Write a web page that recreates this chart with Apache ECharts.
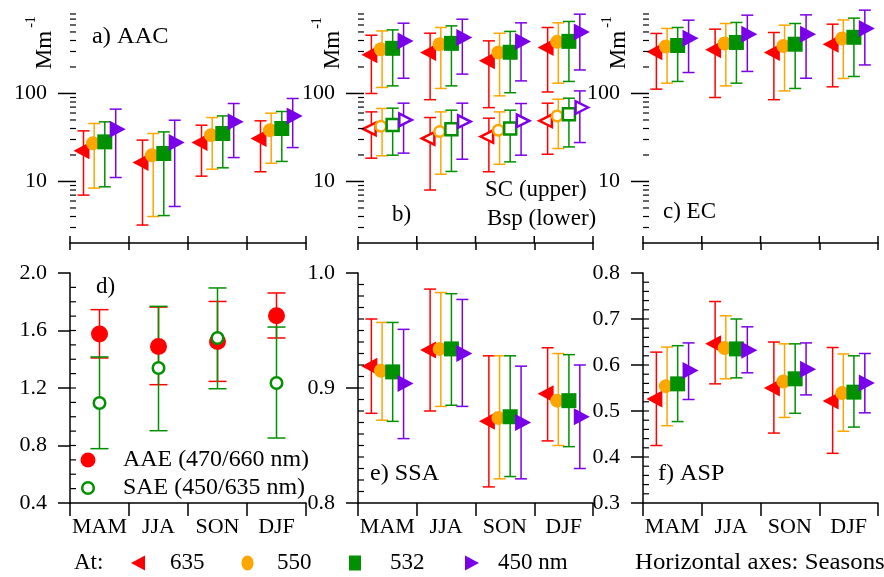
<!DOCTYPE html>
<html><head><meta charset="utf-8">
<script src="https://cdn.jsdelivr.net/npm/echarts@6/dist/echarts.min.js"></script>
<style>html,body{margin:0;padding:0;background:#fff}#c{width:884px;height:577px}</style>
</head><body><div id="c"></div>
<script>
// ---------- categories / labels ----------
const seasons = ['MAM', 'JJA', 'SON', 'DJF'];
const wavelengthLabels = ['635', '550', '532', '450 nm'];
const logTickLabels = ['10', '100'];
const logMajorTicks = [10, 100];
const logMinorTicks = [3, 4, 5, 6, 7, 8, 9, 20, 30, 40, 50, 60, 70, 80, 90, 200, 300, 400, 500, 600, 700, 800];

// ---------- a) AAC (rows: 635, 550, 532, 450 nm) ----------
const AAC_mid = [[22.3, 16.4, 27.7, 30.8], [27.2, 19.9, 33.6, 38.3], [28.2, 20.8, 35.1, 40.0], [39.3, 27.7, 47.6, 55.6]];
const AAC_low = [[7.0, 3.2, 11.5, 12.9], [8.4, 4.0, 13.8, 16.1], [8.7, 4.1, 14.3, 16.9], [11.1, 5.2, 18.7, 24.3]];
const AAC_high = [[37.6, 29.5, 43.6, 48.9], [45.6, 35.1, 53.3, 59.7], [47.6, 36.6, 55.6, 62.4], [66.4, 49.7, 76.9, 87.7]];

// ---------- b) SC (upper) ----------
const SC_mid = [[275, 292, 235, 333], [318, 363, 292, 386], [326, 371, 294, 391], [396, 433, 390, 501]];
const SC_low = [[100, 85, 69, 104], [117, 114, 94, 131], [122, 122, 102, 137], [149, 166, 139, 185]];
const SC_high = [[459, 484, 396, 562], [514, 562, 484, 635], [528, 586, 507, 658], [629, 698, 635, 796]];

// ---------- b) Bsp (lower) ----------
const BSP_mid = [[39.5, 30.8, 32.4, 48.9], [42.5, 37.0, 38.3, 55.6], [43.8, 39.3, 40.0, 58.2], [50.1, 48.0, 48.9, 69.3]];
const BSP_low = [[18.4, 8.0, 12.9, 20.4], [19.6, 12.1, 15.7, 23.7], [19.9, 13.0, 16.7, 24.7], [21.0, 17.9, 19.9, 27.7]];
const BSP_high = [[61.8, 53.3, 52.4, 77.6], [67.6, 61.8, 61.8, 86.1], [68.1, 64.6, 64.6, 88.4], [77.6, 77.6, 76.9, 107]];

// ---------- c) EC ----------
const EC_mid = [[297, 313, 292, 363], [342, 370, 347, 422], [351, 380, 363, 435], [425, 472, 472, 548]];
const EC_low = [[112, 90, 85, 119], [131, 122, 107, 148], [137, 131, 114, 156], [173, 178, 149, 211]];
const EC_high = [[481, 538, 493, 613], [548, 624, 597, 685], [562, 641, 624, 718], [681, 776, 782, 885]];

// ---------- d) AAE / SAE ----------
const AAE_mid = [1.576, 1.489, 1.524, 1.703];
const AAE_low = [1.409, 1.223, 1.246, 1.548];
const AAE_high = [1.745, 1.763, 1.802, 1.861];
const SAE_mid = [1.096, 1.339, 1.548, 1.235];
const SAE_low = [0.778, 0.903, 1.195, 0.852];
const SAE_high = [1.416, 1.768, 1.896, 1.624];

// ---------- e) SSA ----------
const SSA_mid = [[0.919, 0.933, 0.871, 0.895], [0.915, 0.934, 0.874, 0.889], [0.914, 0.934, 0.875, 0.889], [0.904, 0.930, 0.870, 0.875]];
const SSA_low = [[0.878, 0.880, 0.814, 0.854], [0.872, 0.884, 0.821, 0.850], [0.871, 0.885, 0.823, 0.849], [0.856, 0.884, 0.821, 0.830]];
const SSA_high = [[0.960, 0.986, 0.928, 0.935], [0.957, 0.983, 0.928, 0.930], [0.957, 0.982, 0.928, 0.929], [0.951, 0.977, 0.919, 0.920]];

// ---------- f) ASP ----------
const ASP_mid = [[0.526, 0.646, 0.550, 0.522], [0.554, 0.637, 0.564, 0.539], [0.559, 0.635, 0.570, 0.541], [0.588, 0.632, 0.591, 0.561]];
const ASP_low = [[0.425, 0.559, 0.452, 0.408], [0.468, 0.570, 0.486, 0.456], [0.477, 0.572, 0.495, 0.465], [0.525, 0.583, 0.535, 0.496]];
const ASP_high = [[0.628, 0.738, 0.650, 0.638], [0.639, 0.707, 0.646, 0.624], [0.642, 0.700, 0.646, 0.620], [0.648, 0.683, 0.648, 0.625]];

// ---------- styling ----------
const FONT = "'Liberation Serif','Times New Roman',serif";
const COLORS = ['#ff0000', '#ffa500', '#009000', '#7a00ea'];
const BAR_DX = [-16, -5.3, 5.3, 16.2];
const MARK_DX = [-18, -6.5, 5.3, 18.2];
const FILLED = [
  { symbol: 'triangle', rot: 90, size: [17, 16] },
  { symbol: 'circle', rot: 0, size: 14 },
  { symbol: 'rect', rot: 0, size: 15 },
  { symbol: 'triangle', rot: -90, size: [17, 16] }
];
const HOLLOW = [
  { symbol: 'triangle', rot: 90, size: [12.5, 12.5] },
  { symbol: 'circle', rot: 0, size: 10.5 },
  { symbol: 'rect', rot: 0, size: 12 },
  { symbol: 'triangle', rot: -90, size: [12.5, 12.5] }
];

const grids = [
  { left: 70, top: 14, width: 236, height: 229 },
  { left: 358, top: 14, width: 235, height: 229 },
  { left: 643, top: 14, width: 235, height: 229 },
  { left: 70, top: 273, width: 236, height: 230 },
  { left: 358, top: 273, width: 235, height: 230 },
  { left: 643, top: 273, width: 235, height: 230 }
];
// [min, max, major interval, minor step] for linear panels d, e, f
const linSpecs = { 3: [0.4, 2.0, 0.4, 0.1], 4: [0.8, 1.0, 0.1, 0.01], 5: [0.3, 0.8, 0.1, 0.02] };

const xAxes = grids.map((g, gi) => {
  const top = gi < 3;
  return {
    type: 'category', gridIndex: gi, data: seasons, position: 'bottom', boundaryGap: true,
    axisLine: { onZero: false, lineStyle: { color: '#000', width: 1.5 } },
    axisTick: { show: true, interval: 0, length: top ? 7 : 13, lineStyle: { color: '#000', width: 1.5 } },
    axisLabel: { show: !top, interval: 0, margin: 13, color: '#000', fontFamily: FONT, fontSize: 22 },
    splitLine: { show: false }
  };
});
const yAxes = grids.map((g, gi) => {
  if (gi < 3) {
    return {
      type: 'log', logBase: 10, gridIndex: gi, min: 2, max: 800, position: 'left',
      axisLine: { lineStyle: { color: '#000', width: 1.5 } },
      axisTick: { show: false },
      axisLabel: {
        margin: 23, color: '#000', fontFamily: FONT, fontSize: 22,
        formatter: v => { const s = String(Math.round(v)); return logTickLabels.includes(s) && Math.abs(v - Math.round(v)) < 1e-6 ? s : ''; }
      },
      splitLine: { show: false }
    };
  }
  const [mn, mx, iv] = linSpecs[gi];
  return {
    type: 'value', gridIndex: gi, min: mn, max: mx, interval: iv, position: 'left',
    axisLine: { show: true, onZero: false, lineStyle: { color: '#000', width: 1.5 } },
    axisTick: { show: true, length: 12, lineStyle: { color: '#000', width: 1.5 } },
    axisLabel: { margin: 23, color: '#000', fontFamily: FONT, fontSize: 22, formatter: v => v.toFixed(1) },
    splitLine: { show: false }
  };
});

function errBars(gi, lo, hi, color, dx, cap) {
  return {
    type: 'custom', xAxisIndex: gi, yAxisIndex: gi, z: 2, silent: true, clip: false,
    encode: { x: 0, y: [1, 2] },
    renderItem: (params, api) => {
      const c = api.value(0);
      const p1 = api.coord([c, api.value(1)]);
      const p2 = api.coord([c, api.value(2)]);
      const x = p1[0] + dx;
      const st = { stroke: color, lineWidth: 1.5, fill: null };
      return {
        type: 'group', children: [
          { type: 'line', shape: { x1: x, y1: p1[1], x2: x, y2: p2[1] }, style: st },
          { type: 'line', shape: { x1: x - cap / 2, y1: p1[1], x2: x + cap / 2, y2: p1[1] }, style: st },
          { type: 'line', shape: { x1: x - cap / 2, y1: p2[1], x2: x + cap / 2, y2: p2[1] }, style: st }
        ]
      };
    },
    data: seasons.map((s, i) => [i, lo[i], hi[i]])
  };
}
function marks(gi, mid, color, spec, dx, hollow) {
  return {
    type: 'scatter', xAxisIndex: gi, yAxisIndex: gi, z: 3, silent: true,
    symbol: spec.symbol, symbolSize: spec.size, symbolRotate: spec.rot, symbolOffset: [dx, 0],
    itemStyle: hollow ? { color: '#fff', borderColor: color, borderWidth: 2.5, opacity: 1 } : { color: color, opacity: 1 },
    data: mid.map((v, i) => [i, v])
  };
}
// minor / inward y ticks drawn through the axis scale
function yTicks(gi, minorVals, majorVals) {
  const data = minorVals.map(v => [0, v, 0]).concat(majorVals.map(v => [0, v, 1]));
  return {
    type: 'custom', xAxisIndex: gi, yAxisIndex: gi, z: 4, silent: true, clip: false,
    encode: { x: 0, y: 1 },
    renderItem: (params, api) => {
      const y = api.coord([0, api.value(1)])[1];
      const x0 = params.coordSys.x;
      const major = api.value(2) === 1;
      return { type: 'line', shape: { x1: major ? x0 - 12 : x0, y1: y, x2: x0 + 6, y2: y }, style: { stroke: '#000', lineWidth: major ? 1.5 : 1.2 } };
    },
    data: data
  };
}
// inward x ticks at category boundaries (top row)
function xInTicks(gi) {
  return {
    type: 'custom', xAxisIndex: gi, yAxisIndex: gi, z: 4, silent: true, clip: false,
    encode: { x: 0 },
    renderItem: (params, api) => {
      const cs = params.coordSys;
      const c = api.coord([api.value(0), 10]);
      const half = api.size([1, 0])[0] / 2;
      const yb = cs.y + cs.height;
      const st = { stroke: '#000', lineWidth: 1.5 };
      const children = [{ type: 'line', shape: { x1: c[0] - half, y1: yb, x2: c[0] - half, y2: yb - 7 }, style: st }];
      if (api.value(0) === seasons.length - 1) children.push({ type: 'line', shape: { x1: c[0] + half, y1: yb, x2: c[0] + half, y2: yb - 7 }, style: st });
      return { type: 'group', children: children };
    },
    data: seasons.map((s, i) => [i])
  };
}
function linMinor(gi) {
  const [mn, mx, iv, st] = linSpecs[gi];
  const vals = [];
  const n = Math.round((mx - mn) / st);
  for (let i = 1; i < n; i++) vals.push(+(mn + i * st).toFixed(4));
  return vals;
}

const series = [];
const fourWave = [[0, AAC_mid, AAC_low, AAC_high, false], [1, SC_mid, SC_low, SC_high, false], [1, BSP_mid, BSP_low, BSP_high, true],
  [2, EC_mid, EC_low, EC_high, false], [4, SSA_mid, SSA_low, SSA_high, false], [5, ASP_mid, ASP_low, ASP_high, false]];
fourWave.forEach(([gi, mid, lo, hi]) => { for (let k = 0; k < 4; k++) series.push(errBars(gi, lo[k], hi[k], COLORS[k], BAR_DX[k], 12)); });
fourWave.forEach(([gi, mid, lo, hi, hollow]) => { for (let k = 0; k < 4; k++) series.push(marks(gi, mid[k], COLORS[k], hollow ? HOLLOW[k] : FILLED[k], MARK_DX[k], hollow)); });
series.push(errBars(3, AAE_low, AAE_high, COLORS[0], 0, 18));
series.push(errBars(3, SAE_low, SAE_high, COLORS[2], 0, 18));
series.push(marks(3, AAE_mid, COLORS[0], { symbol: 'circle', rot: 0, size: 17 }, 0, false));
series.push(marks(3, SAE_mid, COLORS[2], { symbol: 'circle', rot: 0, size: 11.5 }, 0, true));
[0, 1, 2].forEach(gi => { series.push(yTicks(gi, logMinorTicks, logMajorTicks)); series.push(xInTicks(gi)); });
[3, 4, 5].forEach(gi => series.push(yTicks(gi, linMinor(gi), [])));

function txt(x, y, text, extra) {
  return Object.assign({ type: 'text', x: x, y: y, silent: true, z: 10,
    style: { text: text, fill: '#000', fontFamily: FONT, fontSize: 23, textAlign: 'left', textVerticalAlign: 'middle' } }, extra || {});
}
function rtxt(x, y, text, size) {
  return { type: 'text', x: x, y: y, rotation: Math.PI / 2, silent: true, z: 10,
    style: { text: text, fill: '#000', fontFamily: FONT, fontSize: size, textAlign: 'center', textVerticalAlign: 'middle' } };
}
const graphic = [
  rtxt(45, 50, 'Mm', 23), rtxt(31.5, 22, '-1', 14),
  rtxt(333, 50, 'Mm', 23), rtxt(317.5, 23, '-1', 14),
  rtxt(619, 50, 'Mm', 23), rtxt(607, 22, '-1', 14),
  txt(92, 37, 'a) AAC', { scaleX: 1.06 }),
  txt(392, 215, 'b)'),
  txt(485, 190, 'SC (upper)'),
  txt(487, 219, 'Bsp (lower)'),
  txt(663, 212, 'c) EC'),
  txt(96, 287, 'd)'),
  txt(370, 474, 'e) SSA', { scaleX: 1.05 }),
  txt(658, 474, 'f) ASP', { scaleX: 1.05 }),
  // d legend
  { type: 'circle', shape: { cx: 88, cy: 460, r: 7.5 }, style: { fill: COLORS[0] }, silent: true, z: 10 },
  { type: 'circle', shape: { cx: 88, cy: 488, r: 5.8 }, style: { fill: '#fff', stroke: COLORS[2], lineWidth: 2.5 }, silent: true, z: 10 },
  txt(123, 460, 'AAE (470/660 nm)', { scaleX: 1.04 }),
  txt(123, 488, 'SAE (450/635 nm)', { scaleX: 1.04 }),
  // bottom legend
  txt(74, 563, 'At:'),
  { type: 'polygon', shape: { points: [[131, 563], [145, 555.5], [145, 570.5]] }, style: { fill: COLORS[0] }, silent: true },
  txt(170, 563, wavelengthLabels[0]),
  { type: 'ellipse', shape: { cx: 247.5, cy: 563, rx: 6, ry: 7.5 }, style: { fill: COLORS[1] }, silent: true },
  txt(277, 563, wavelengthLabels[1]),
  { type: 'rect', shape: { x: 349, y: 555.5, width: 12, height: 15 }, style: { fill: COLORS[2] }, silent: true },
  txt(390, 563, wavelengthLabels[2]),
  { type: 'polygon', shape: { points: [[479, 563], [465, 555.5], [465, 570.5]] }, style: { fill: COLORS[3] }, silent: true },
  txt(498, 563, wavelengthLabels[3]),
  txt(635, 563, 'Horizontal axes: Seasons', { scaleX: 1.08 })
];

const chart = echarts.init(document.getElementById('c'), null, { renderer: 'canvas' });
chart.setOption({
  animation: false,
  backgroundColor: '#fff',
  grid: grids,
  xAxis: xAxes,
  yAxis: yAxes,
  series: series,
  graphic: graphic
});
</script>
</body></html>
